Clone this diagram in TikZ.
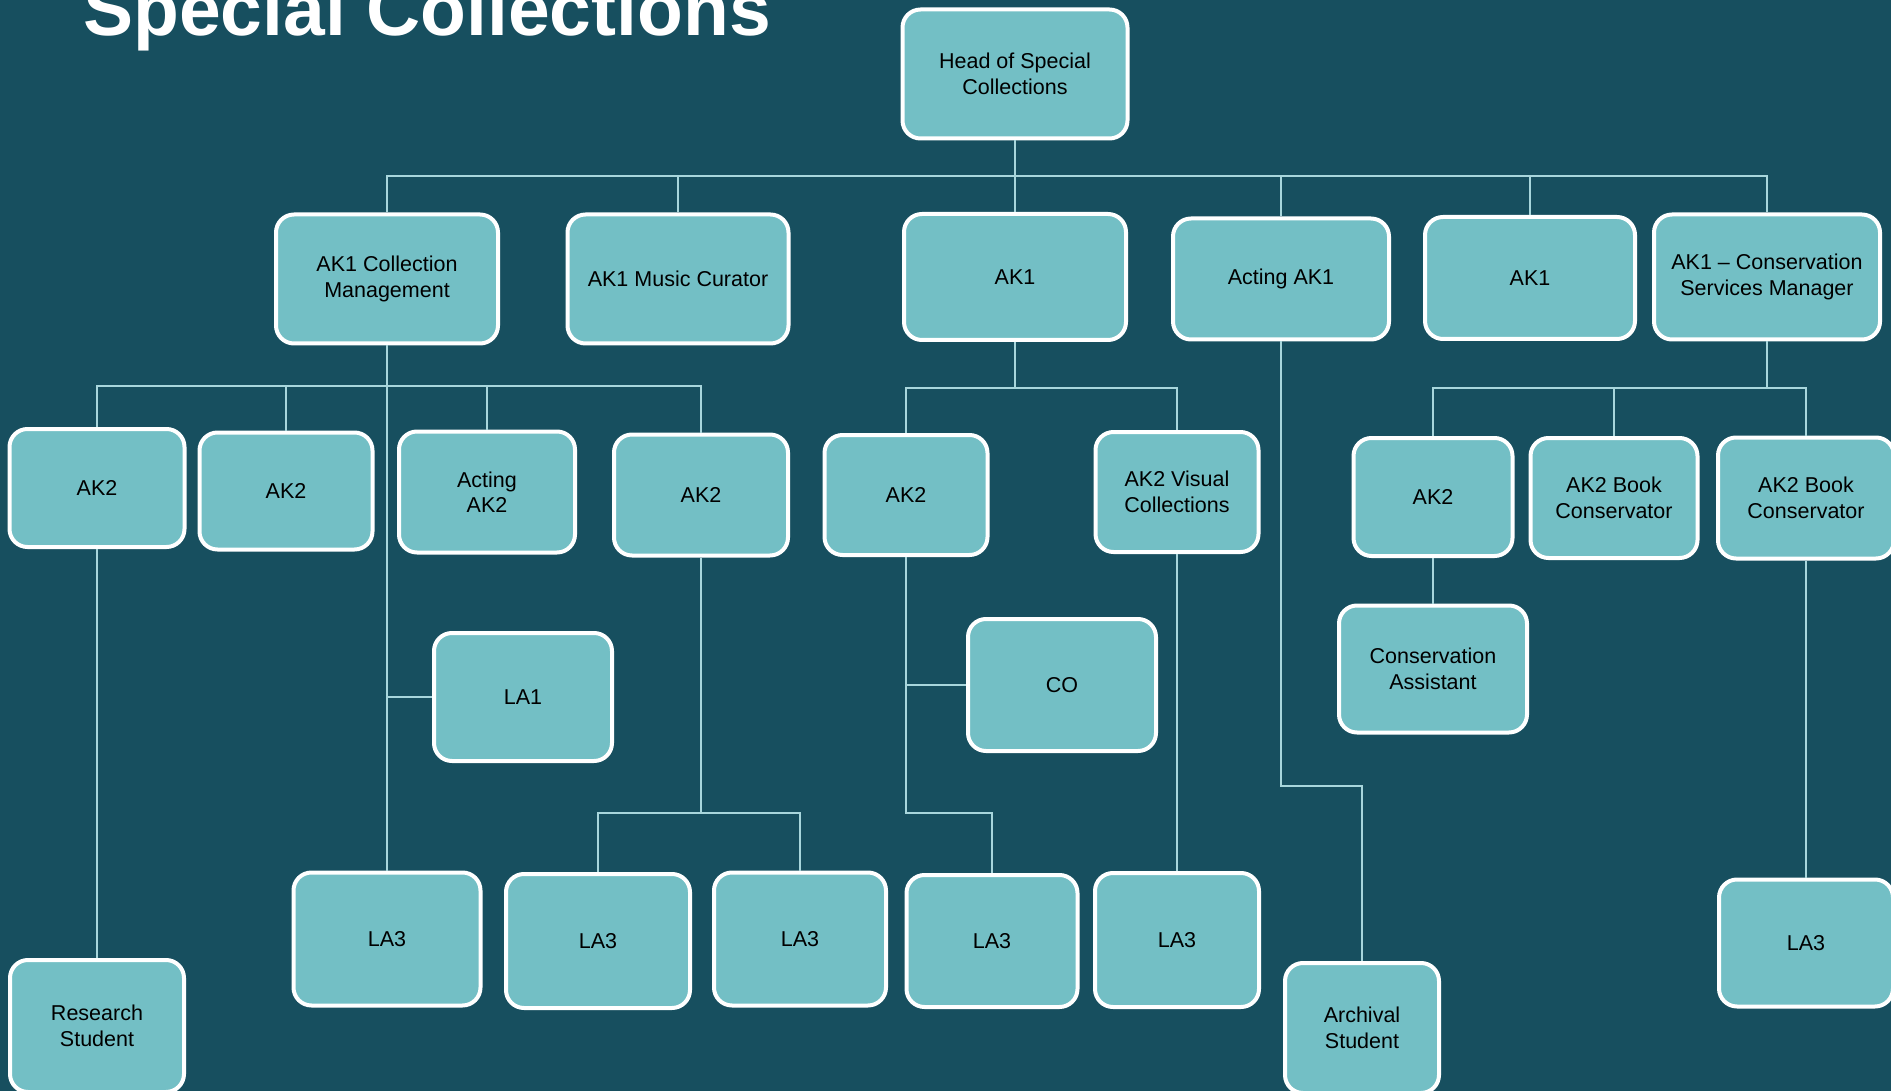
\documentclass[tikz,border=0pt]{standalone}
\usepackage{fontspec}
\setmainfont{Liberation Sans}
\definecolor{bg}{HTML}{174F5F}
\definecolor{boxfill}{HTML}{73BFC5}
\definecolor{conncol}{HTML}{A8D6DC}
\tikzset{
  box/.style={draw=white, line width=4pt, fill=boxfill, rounded corners=18pt,
    align=center, inner sep=2pt, text=black,
    font=\fontsize{21.5}{25.5}\selectfont},
  conn/.style={draw=conncol, line width=2pt},
  titletext/.style={text=white, inner sep=0pt, font=\fontsize{75}{80}\selectfont\bfseries}
}
\begin{document}
\begin{tikzpicture}[x=1pt,y=-1pt]
\fill[bg] (0,0) rectangle (1891,1091);
\useasboundingbox (0,0) rectangle (1891,1091);
\clip (0,0) rectangle (1891,1091);

\node[titletext, anchor=base west] (title) at (83,36) {Special Collections};

% level 0
\node[box, minimum width=225pt, minimum height=129pt] (head) at (1015,74) {Head of Special\\Collections};
% level 1
\node[box, minimum width=222pt, minimum height=129pt] (cm) at (387,279) {AK1 Collection\\Management};
\node[box, minimum width=221pt, minimum height=129pt] (mus) at (678,279) {AK1 Music Curator};
\node[box, minimum width=222pt, minimum height=126pt] (ak1a) at (1015,277) {AK1};
\node[box, minimum width=216pt, minimum height=121pt] (act1) at (1281,279) {Acting AK1};
\node[box, minimum width=210pt, minimum height=122pt] (ak1b) at (1530,278) {AK1};
\node[box, minimum width=226pt, minimum height=125pt] (csm) at (1767,277) {AK1 – Conservation\\Services Manager};
% level 2
\node[box, minimum width=175pt, minimum height=118pt] (ak2a) at (97,488) {AK2};
\node[box, minimum width=173pt, minimum height=117pt] (ak2b) at (286,491) {AK2};
\node[box, minimum width=176pt, minimum height=121pt] (act2) at (487,492) {Acting\\AK2};
\node[box, minimum width=174pt, minimum height=121pt] (ak2c) at (701,495) {AK2};
\node[box, minimum width=163pt, minimum height=120pt] (ak2d) at (906,495) {AK2};
\node[box, minimum width=163pt, minimum height=120pt] (avc) at (1177,492) {AK2 Visual\\Collections};
\node[box, minimum width=159pt, minimum height=118pt] (ak2e) at (1433,497) {AK2};
\node[box, minimum width=167pt, minimum height=120pt] (abc1) at (1614,498) {AK2 Book\\Conservator};
\node[box, minimum width=176pt, minimum height=121pt] (abc2) at (1806,498) {AK2 Book\\Conservator};
% level 3
\node[box, minimum width=178pt, minimum height=128pt] (la1) at (523,697) {LA1};
\node[box, minimum width=188pt, minimum height=132pt] (co) at (1062,685) {CO};
\node[box, minimum width=188pt, minimum height=127pt] (ca) at (1433,669) {Conservation\\Assistant};
% level 4
\node[box, minimum width=187pt, minimum height=133pt] (la3a) at (387,939) {LA3};
\node[box, minimum width=184pt, minimum height=134pt] (la3b) at (598,941) {LA3};
\node[box, minimum width=172pt, minimum height=133pt] (la3c) at (800,939) {LA3};
\node[box, minimum width=171pt, minimum height=132pt] (la3d) at (992,941) {LA3};
\node[box, minimum width=164pt, minimum height=134pt] (la3e) at (1177,940) {LA3};
\node[box, minimum width=174pt, minimum height=127pt] (la3f) at (1806,943) {LA3};
\node[box, minimum width=174pt, minimum height=132pt] (rs) at (97,1026) {Research\\Student};
\node[box, minimum width=154pt, minimum height=130pt] (as) at (1362,1028) {Archival\\Student};

% bus coordinates
\coordinate (bus0) at (0,176);
\coordinate (bus1) at (0,386);
\coordinate (bus3) at (0,388);
\coordinate (bus2) at (0,813);
\coordinate (bus4) at (0,786);

% head to level 1
\foreach \c in {cm,mus,ak1a,act1,ak1b,csm}
  \draw[conn] (head.south) -- (head.south |- bus0) -| (\c.north);

% collection management
\foreach \c in {ak2a,ak2b,act2,ak2c}
  \draw[conn] (cm.south) -- (cm.south |- bus1) -| (\c.north);
\draw[conn] (cm.south) |- (la1.west);
\draw[conn] (cm.south) -- (la3a.north);
\draw[conn] (ak2a.south) -- (rs.north);
\foreach \c in {la3b,la3c}
  \draw[conn] (ak2c.south) -- (ak2c.south |- bus2) -| (\c.north);

% middle AK1
\foreach \c in {ak2d,avc}
  \draw[conn] (ak1a.south) -- (ak1a.south |- bus3) -| (\c.north);
\draw[conn] (ak2d.south) |- (co.west);
\draw[conn] (ak2d.south) -- (ak2d.south |- bus2) -| (la3d.north);
\draw[conn] (avc.south) -- (la3e.north);

% acting AK1
\draw[conn] (act1.south) -- (act1.south |- bus4) -| (as.north);

% conservation services manager
\foreach \c in {ak2e,abc1,abc2}
  \draw[conn] (csm.south) -- (csm.south |- bus3) -| (\c.north);
\draw[conn] (ak2e.south) -- (ca.north);
\draw[conn] (abc2.south) -- (la3f.north);
\end{tikzpicture}
\end{document}
